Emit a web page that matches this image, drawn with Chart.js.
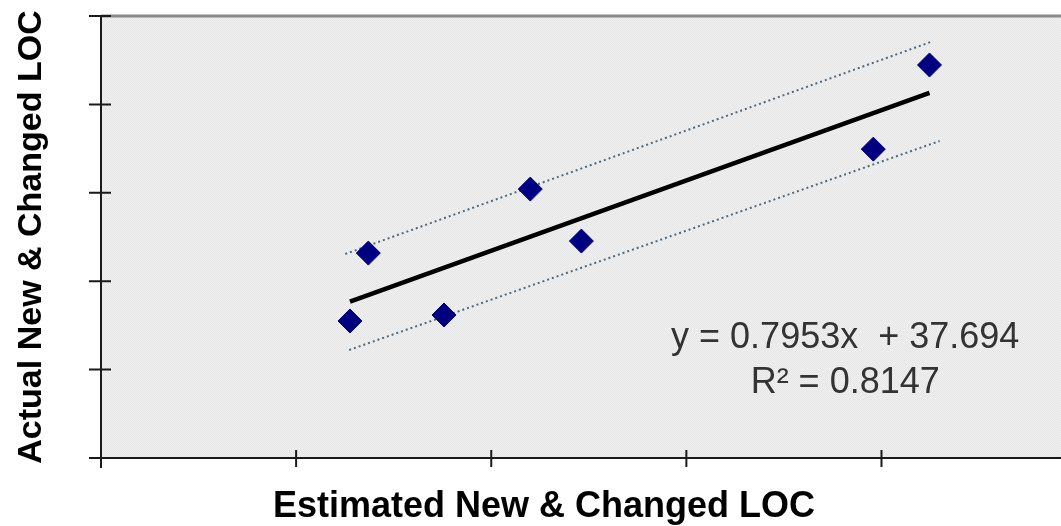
<!DOCTYPE html>
<html>
<head>
<meta charset="utf-8">
<script src="https://cdn.jsdelivr.net/npm/chart.js@4.4.0/dist/chart.umd.min.js"></script>
<style>
  html, body { margin: 0; padding: 0; background: #fff; overflow: hidden; }
  #wrap { width: 1061px; height: 526px; }
</style>
</head>
<body>
<div id="wrap"><canvas id="scatterChart"></canvas></div>
<script>
// estimated vs actual LOC
const estimated = [63.8, 68.5, 87.9, 110.0, 123.1, 197.9, 212.3];
const actual    = [77.5, 115.9, 80.9, 152.1, 122.7, 174.7, 222.3];

// trendline as shown on the chart
const slope = 0.7953;
const intercept = 37.694;
const rSquared = 0.8147;

// dotted band lines
const upperBandX = [62.6, 212.6];
const upperBandY = [115.4, 235.3];
const lowerBandX = [63.6, 214.9];
const lowerBandY = [61.1, 179.3];

const xTitle = 'Estimated New & Changed LOC';
const yTitle = 'Actual New & Changed LOC';

const font = '"Liberation Sans", Arial, sans-serif';

const points = estimated.map((x, i) => ({ x: x, y: actual[i] }));
const xMin = Math.min(...estimated), xMax = Math.max(...estimated);
const trend = [xMin, xMax].map(x => ({ x: x, y: slope * x + intercept }));
const upper = upperBandX.map((x, i) => ({ x: x, y: upperBandY[i] }));
const lower = lowerBandX.map((x, i) => ({ x: x, y: lowerBandY[i] }));

// dithered grey plot area
function makePattern() {
    const c = document.createElement('canvas');
    c.width = 2; c.height = 2;
    const g = c.getContext('2d');
    g.fillStyle = '#f0f0f0'; g.fillRect(0, 0, 2, 2);
    g.fillStyle = '#e6e6e6'; g.fillRect(0, 0, 1, 1); g.fillRect(1, 1, 1, 1);
    return g.createPattern(c, 'repeat');
}

const frame = {
    id: 'frame',
    beforeDatasetsDraw(chart) {
        const { ctx, chartArea: a, scales } = chart;
        ctx.save();
        ctx.fillStyle = makePattern();
        ctx.fillRect(a.left, a.top, a.right - a.left, a.bottom - a.top);
        // top border
        ctx.strokeStyle = '#8a8a8a';
        ctx.lineWidth = 3;
        ctx.beginPath();
        ctx.moveTo(a.left, a.top);
        ctx.lineTo(a.right, a.top);
        ctx.stroke();
        // axes
        ctx.strokeStyle = '#1a1a1a';
        ctx.lineWidth = 2;
        ctx.beginPath();
        ctx.moveTo(a.left, a.top - 1);
        ctx.lineTo(a.left, a.bottom + 10);
        ctx.moveTo(a.left - 12, a.bottom);
        ctx.lineTo(a.right, a.bottom);
        ctx.stroke();
        // crossing tick marks
        ctx.lineWidth = 2;
        ctx.beginPath();
        scales.y.ticks.forEach(t => {
            const py = scales.y.getPixelForValue(t.value);
            ctx.moveTo(a.left - 12, py);
            ctx.lineTo(a.left + 10, py);
        });
        scales.x.ticks.forEach(t => {
            const px = scales.x.getPixelForValue(t.value);
            ctx.moveTo(px, a.bottom - 8);
            ctx.lineTo(px, a.bottom + 9);
        });
        ctx.stroke();
        ctx.restore();
    },
    afterDraw(chart) {
        const { ctx, chartArea: a, scales } = chart;
        ctx.save();
        ctx.fillStyle = '#000';
        ctx.font = 'bold 36px ' + font;
        ctx.textAlign = 'center';
        ctx.textBaseline = 'alphabetic';
        ctx.fillText(xTitle, 544, 517);
        ctx.translate(41, (a.top + a.bottom) / 2);
        ctx.rotate(-Math.PI / 2);
        ctx.font = 'bold 34px ' + font;
        ctx.fillText(yTitle, 0, 0);
        ctx.restore();

        ctx.save();
        ctx.fillStyle = '#333';
        ctx.font = '36px ' + font;
        ctx.textAlign = 'center';
        const cx = scales.x.getPixelForValue(190.7);
        ctx.fillText('y = ' + slope + 'x  + ' + intercept, cx, scales.y.getPixelForValue(62.2));
        ctx.fillText('R\u00b2 = ' + rSquared, cx, scales.y.getPixelForValue(36.8));
        ctx.restore();
    }
};

const ctx = document.getElementById('scatterChart').getContext('2d');
const myChart = new Chart(ctx, {
    type: 'scatter',
    data: {
        datasets: [{
            label: 'LOC',
            data: points,
            backgroundColor: '#000080',
            borderColor: '#000080',
            pointStyle: 'rectRot',
            pointRadius: 12,
            order: 1
        }, {
            label: 'Trend',
            type: 'line',
            data: trend,
            borderColor: '#000',
            borderWidth: 4.5,
            pointRadius: 0,
            order: 2
        }, {
            label: 'Upper',
            type: 'line',
            data: upper,
            borderColor: '#4d6a80',
            borderWidth: 2,
            borderDash: [2, 3],
            pointRadius: 0,
            order: 3
        }, {
            label: 'Lower',
            type: 'line',
            data: lower,
            borderColor: '#4d6a80',
            borderWidth: 2,
            borderDash: [2, 3],
            pointRadius: 0,
            order: 3
        }]
    },
    options: {
        responsive: true,
        maintainAspectRatio: false,
        animation: false,
        layout: {
            autoPadding: false,
            padding: { left: 101, top: 16, right: 0, bottom: 68 }
        },
        plugins: {
            legend: { display: false },
            tooltip: { enabled: false }
        },
        scales: {
            x: {
                type: 'linear',
                min: 0,
                max: 246,
                ticks: { display: false, stepSize: 50, includeBounds: false },
                grid: { display: false, drawTicks: false },
                border: { display: false }
            },
            y: {
                type: 'linear',
                min: 0,
                max: 250,
                ticks: { display: false, stepSize: 50 },
                grid: { display: false, drawTicks: false },
                border: { display: false }
            }
        }
    },
    plugins: [frame]
});
</script>
</body>
</html>
